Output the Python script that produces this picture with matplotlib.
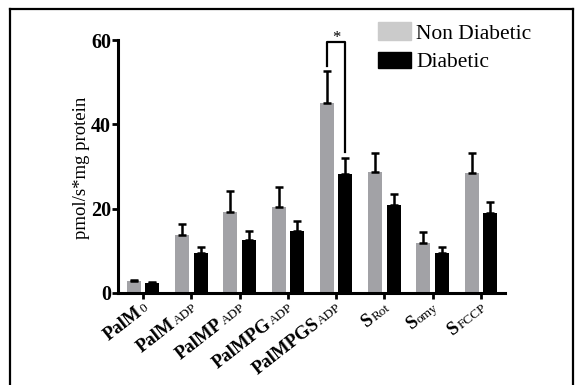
import matplotlib
matplotlib.use('Agg')
import matplotlib.pyplot as plt
import matplotlib.transforms as mtrans
from matplotlib.lines import Line2D
from matplotlib.patches import Rectangle
import numpy as np

plt.rcParams['font.family'] = ['Liberation Serif', 'DejaVu Serif']

# ---- data ----
label_main = ['PalM', 'PalM', 'PalMP', 'PalMPG', 'PalMPGS', 'S', 'S', 'S']
label_sub = ['0', 'ADP', 'ADP', 'ADP', 'ADP', 'Rot', 'omy', 'FCCP']
series_names = ['Non Diabetic', 'Diabetic']
non_diabetic = [2.8, 13.8, 19.3, 20.4, 45.0, 28.7, 11.8, 28.5]
non_diabetic_err = [0.3, 2.6, 4.8, 4.7, 7.7, 4.4, 2.6, 4.6]
diabetic = [2.3, 9.5, 12.5, 14.8, 28.3, 20.8, 9.6, 19.0]
diabetic_err = [0.2, 1.4, 2.1, 2.3, 3.7, 2.7, 1.4, 2.5]
yticks = [0, 20, 40, 60]
sig_group = 4

W, H = 580, 385
fig = plt.figure(figsize=(W / 100, H / 100), dpi=100)
ax = fig.add_axes([118 / W, 92 / H, (505 - 118) / W, (293 - 40) / H])

gray = '#a2a2a6'
x = np.arange(len(label_main))
off = 0.19
bw = 0.29
ax.bar(x - off, non_diabetic, bw, color=gray, zorder=2)
ax.bar(x + off, diabetic, bw, color='black', zorder=2)
zeros = np.zeros(len(x))
for xs, v, e in [(x - off, non_diabetic, non_diabetic_err), (x + off, diabetic, diabetic_err)]:
    ax.errorbar(xs, v, yerr=[zeros, e], fmt='none', ecolor='black',
                elinewidth=1.8, capsize=3, capthick=1.8, zorder=3)

ax.set_xlim(-0.52, 7.5)
ax.set_ylim(0, 60)
for s in ['top', 'right']:
    ax.spines[s].set_visible(False)
for s in ['left', 'bottom']:
    ax.spines[s].set_linewidth(2.2)
ax.set_yticks(yticks)
ax.set_yticklabels([str(t) for t in yticks], fontsize=14.5, fontweight='bold')
ax.set_xticks(x)
ax.set_xticklabels([])
ax.tick_params(axis='both', width=2, length=4, direction='out')
ax.tick_params(axis='y', pad=1)

fig.text(81 / W, 1 - 167.5 / H, 'pmol/s*mg protein', rotation=90,
         ha='center', va='center', fontsize=13.5)

# significance bracket
g = sig_group
yl = non_diabetic[g] + non_diabetic_err[g] + 1.2
yr = diabetic[g] + diabetic_err[g] + 1.5
ytop = 59.6
ax.plot([g - off, g - off, g + off, g + off], [yl, ytop, ytop, yr],
        color='black', lw=1.6, clip_on=False, zorder=4)
ax.text(g, ytop - 1.0, '*', ha='center', va='bottom', fontsize=12)

# x tick labels: bold main part + smaller regular part
fig.canvas.draw()
renderer = fig.canvas.get_renderer()
ang = 38
ca, sa = np.cos(np.radians(ang)), np.sin(np.radians(ang))
x0, y0 = 6, -16
for i, (b, s) in enumerate(zip(label_main, label_sub)):
    tmp = fig.text(0, 0, s, fontsize=9.5)
    w = tmp.get_window_extent(renderer).width
    tmp.remove()
    tr2 = mtrans.offset_copy(ax.get_xaxis_transform(), fig=fig, x=x0, y=y0, units='dots')
    ax.text(i, 0, s, transform=tr2, rotation=ang, rotation_mode='anchor',
            ha='right', va='baseline', fontsize=9.5, clip_on=False)
    gap = 1.0
    tr1 = mtrans.offset_copy(ax.get_xaxis_transform(), fig=fig,
                             x=x0 - (w + gap) * ca, y=y0 - (w + gap) * sa, units='dots')
    ax.text(i, 0, b, transform=tr1, rotation=ang, rotation_mode='anchor',
            ha='right', va='baseline', fontsize=13.5, fontweight='bold', clip_on=False)

# legend (manual)
legend_colors = ['#cbcbcb', 'black']
rows = [(22, 40, 39), (52, 68, 67)]
for name, col, (top, bot, base) in zip(series_names, legend_colors, rows):
    fig.add_artist(Rectangle((378 / W, 1 - bot / H), 33 / W, (bot - top) / H,
                             transform=fig.transFigure, color=col))
    fig.text(416 / W, 1 - base / H, name, fontsize=15.5, va='baseline', ha='left')

# outer frame
fl, ft, fr = 10 / W, 1 - 9 / H, 573 / W
for xs_, ys_ in [([fl, fl], [0, ft]), ([fl, fr], [ft, ft]), ([fr, fr], [ft, 0])]:
    fig.add_artist(Line2D(xs_, ys_, transform=fig.transFigure, color='black', lw=1.6))

fig.savefig('out.png', dpi=100)
